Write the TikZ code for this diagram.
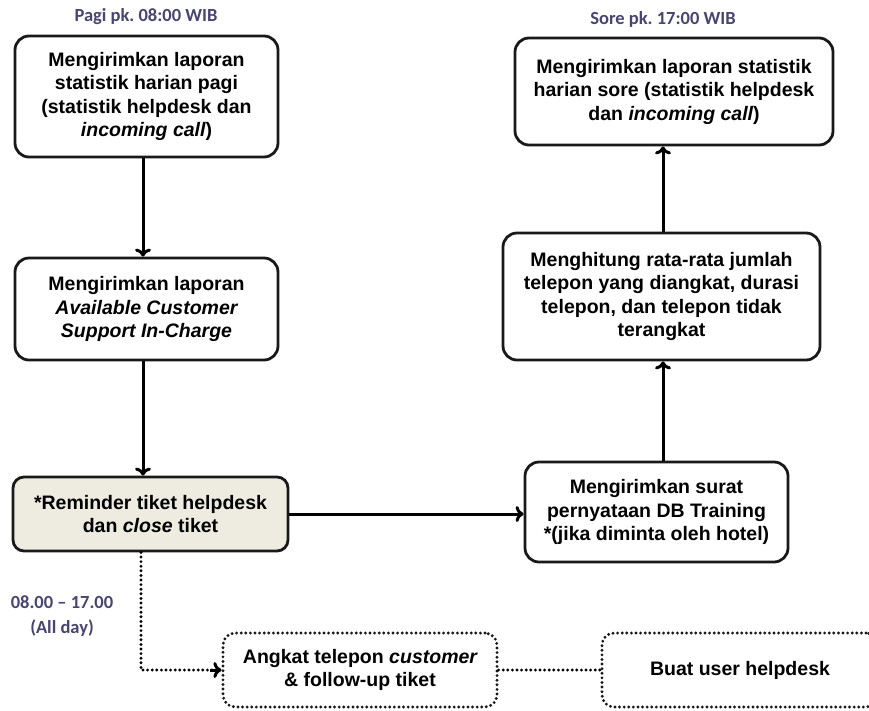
\documentclass[tikz,border=0pt]{standalone}
\usepackage{fontspec}
\setmainfont{Liberation Sans}
\newfontfamily\labfont{Carlito}
\usetikzlibrary{arrows.meta}
\definecolor{labcol}{RGB}{72,70,112}
\definecolor{beige}{RGB}{238,236,225}
\frenchspacing
\tikzset{
  box/.style={draw=black!90, line width=2.8pt, rounded corners=14pt, align=center,
    inner sep=0pt, font=\fontsize{19.5}{23.5}\selectfont\bfseries},
  dotbox/.style={box, line width=3.2pt, dash pattern=on 0pt off 4.6pt, line cap=round, rounded corners=12pt},
  flow/.style={draw=black, line width=3pt, -{To[length=8pt,width=16pt]}},
  dotflow/.style={draw=black, line width=3.2pt, dash pattern=on 0pt off 4.6pt, line cap=round},
  lab/.style={text=labcol, font=\labfont\fontsize{18.5}{22}\selectfont\bfseries, align=center, inner sep=0pt}
}
\begin{document}
\begin{tikzpicture}[x=1pt,y=-1pt]
\useasboundingbox (0,0) rectangle (869,710);
\clip (0,0) rectangle (869,710);
\fill[white] (0,0) rectangle (869,710);

\coordinate (lx) at (143,0);
\coordinate (dx) at (141,0);
\coordinate (ax) at (663,0);

\node[lab] (pagi) at (146,17) {Pagi pk. 08:00 WIB};
\node[lab] (sore) at (663,19) {Sore pk. 17:00 WIB};
\node[lab] (jam) at (62,602) {08.00 \textendash{} 17.00};
\node[lab] (allday) at (62,628) {(All day)};

\node[box, minimum width=263pt, minimum height=121pt] (b1) at (146.5,96.5)
  {Mengirimkan laporan\\statistik harian pagi\\(statistik helpdesk dan\\{\itshape incoming call})};
\node[box, minimum width=263pt, minimum height=102pt] (b2) at (146.5,309)
  {Mengirimkan laporan\\{\itshape Available Customer}\\{\itshape Support In-Charge}};
\node[box, fill=beige, rounded corners=11pt, minimum width=275pt, minimum height=74pt] (b3) at (150.5,514)
  {*Reminder tiket helpdesk\\dan {\itshape close} tiket};
\node[dotbox, minimum width=274pt, minimum height=74pt] (b4) at (360,670)
  {Angkat telepon {\itshape customer}\\\& follow-up tiket};
\node[dotbox, minimum width=276pt, minimum height=74pt] (b5) at (740,670)
  {Buat user helpdesk};
\node[box, minimum width=263pt, minimum height=100pt] (db) at (656.5,512)
  {Mengirimkan surat\\pernyataan DB Training\\*(jika diminta oleh hotel)};
\node[box, minimum width=317pt, minimum height=127pt] (calc) at (661.5,296.5)
  {Menghitung rata-rata jumlah\\telepon yang diangkat, durasi\\telepon, dan telepon tidak\\terangkat};
\node[box, minimum width=318pt, minimum height=107pt] (top) at (674,91.5)
  {Mengirimkan laporan statistik\\harian sore (statistik helpdesk\\dan {\itshape incoming call})};

\draw[flow] (b1.south -| lx) -- (b2.north -| lx);
\draw[flow] (b2.south -| lx) -- (b3.north -| lx);
\draw[flow] (b3.east) -- (b3.east -| db.west);
\draw[flow] (db.north -| ax) -- (calc.south -| ax);
\draw[flow] (calc.north -| ax) -- (top.south -| ax);
\draw[dotflow] (b3.south -| dx) |- ([xshift=-8pt]b4.west);
\draw[flow] ([xshift=-11pt]b4.west) -- (b4.west);
\draw[dotflow] (b4.east) -- (b5.west);
\end{tikzpicture}
\end{document}
